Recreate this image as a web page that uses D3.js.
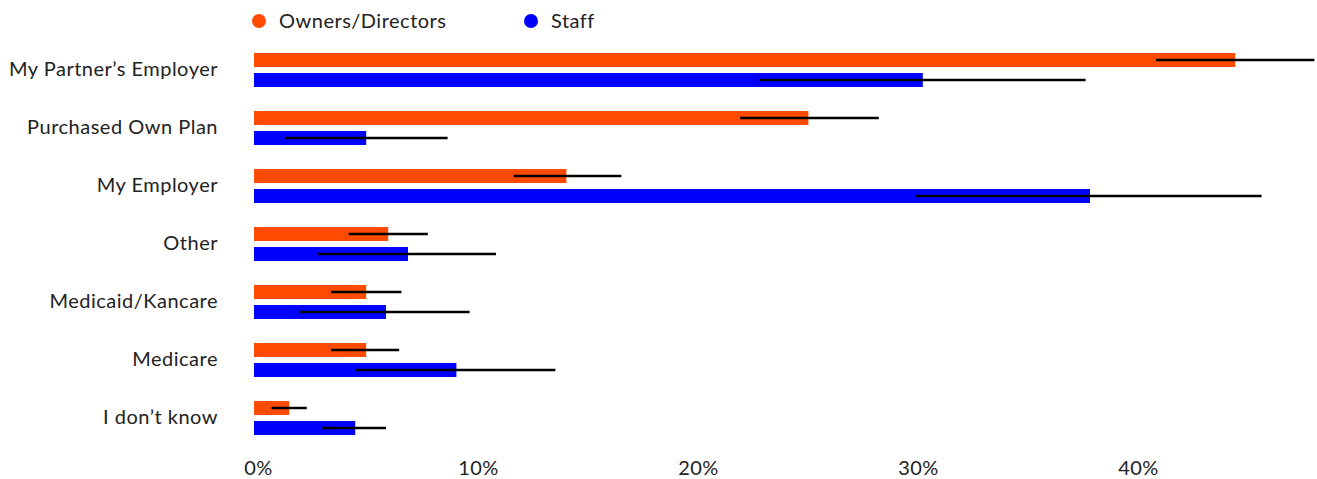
<!DOCTYPE html>
<html>
<head>
<meta charset="utf-8">
<script src="https://cdn.jsdelivr.net/npm/d3@7"></script>
<style>
  html, body { margin: 0; padding: 0; background: #fff; }
  svg { display: block; }
  text { font-family: Lato, "Open Sans", sans-serif; fill: #222; }
</style>
</head>
<body>
<svg id="chart" width="1317" height="479"></svg>
<script>
// Health coverage source, share of respondents
const categories = [
  "My Partner\u2019s Employer",
  "Purchased Own Plan",
  "My Employer",
  "Other",
  "Medicaid/Kancare",
  "Medicare",
  "I don\u2019t know"
];
const seriesNames = ["Owners/Directors", "Staff"];
const seriesColors = ["#ff4b00", "#0000ff"];

const ownersValues = [0.446, 0.252, 0.142, 0.061, 0.051, 0.051, 0.016];
const ownersLow    = [0.410, 0.221, 0.118, 0.043, 0.035, 0.035, 0.008];
const ownersHigh   = [0.482, 0.284, 0.167, 0.079, 0.067, 0.066, 0.024];

const staffValues  = [0.304, 0.051, 0.380, 0.070, 0.060, 0.092, 0.046];
const staffLow     = [0.230, 0.014, 0.301, 0.029, 0.021, 0.046, 0.031];
const staffHigh    = [0.378, 0.088, 0.458, 0.110, 0.098, 0.137, 0.060];

const tickValues = [0, 0.1, 0.2, 0.3, 0.4];

const rows = categories.map((c, i) => ({
  category: c,
  bars: [
    { s: 0, v: ownersValues[i], lo: ownersLow[i], hi: ownersHigh[i] },
    { s: 1, v: staffValues[i],  lo: staffLow[i],  hi: staffHigh[i] }
  ]
}));

const FONT_SIZE = 20;
const LETTER_SPACING = 0.5;

const svg = d3.select("#chart");

const x = d3.scaleLinear().domain([0, 0.4]).range([254, 1134]);
const y = d3.scaleBand().domain(categories).range([41, 447]).paddingInner(0).paddingOuter(0);
const barH = 14, barGap = 6;

// Bars and whiskers per category
const g = svg.append("g");
const grp = g.selectAll("g.cat").data(rows).join("g")
  .attr("class", "cat")
  .attr("transform", d => `translate(0,${y(d.category) + y.bandwidth() / 2})`);

grp.selectAll("rect").data(d => d.bars).join("rect")
  .attr("x", x(0))
  .attr("y", d => d.s === 0 ? -(barH + barGap / 2) : barGap / 2)
  .attr("width", d => x(d.v) - x(0))
  .attr("height", barH)
  .attr("fill", d => seriesColors[d.s]);

grp.selectAll("line.err").data(d => d.bars).join("line")
  .attr("class", "err")
  .attr("x1", d => x(d.lo))
  .attr("x2", d => x(d.hi))
  .attr("y1", d => d.s === 0 ? -(barH / 2 + barGap / 2) : barGap / 2 + barH / 2)
  .attr("y2", d => d.s === 0 ? -(barH / 2 + barGap / 2) : barGap / 2 + barH / 2)
  .attr("stroke", "#000")
  .attr("stroke-width", 2.5);

// Category labels
const yAxis = d3.axisLeft(y).tickSize(0).tickPadding(0);
svg.append("g")
  .attr("transform", "translate(218,0)")
  .call(yAxis)
  .call(a => a.select(".domain").remove())
  .selectAll("text")
  .attr("font-size", FONT_SIZE)
  .attr("letter-spacing", LETTER_SPACING)
  .attr("fill", "#222")
  .style("font-family", "Lato, 'Open Sans', sans-serif");

// Percentage axis
const xAxis = d3.axisBottom(x).tickValues(tickValues).tickFormat(d3.format(".0%")).tickSize(0).tickPadding(0);
svg.append("g")
  .attr("transform", "translate(4,461)")
  .call(xAxis)
  .call(a => a.select(".domain").remove())
  .selectAll("text")
  .attr("font-size", FONT_SIZE)
  .attr("letter-spacing", LETTER_SPACING)
  .attr("dy", "0.71em")
  .attr("fill", "#222")
  .style("font-family", "Lato, 'Open Sans', sans-serif");

// Legend
const legendX = [259, 531];
const legend = svg.append("g").selectAll("g").data(seriesNames).join("g")
  .attr("transform", (d, i) => `translate(${legendX[i]},21)`);
legend.append("circle").attr("r", 7).attr("fill", (d, i) => seriesColors[i]);
legend.append("text")
  .attr("x", 20)
  .attr("dy", "0.35em")
  .attr("font-size", FONT_SIZE)
  .attr("letter-spacing", LETTER_SPACING)
  .text(d => d);
</script>
</body>
</html>
